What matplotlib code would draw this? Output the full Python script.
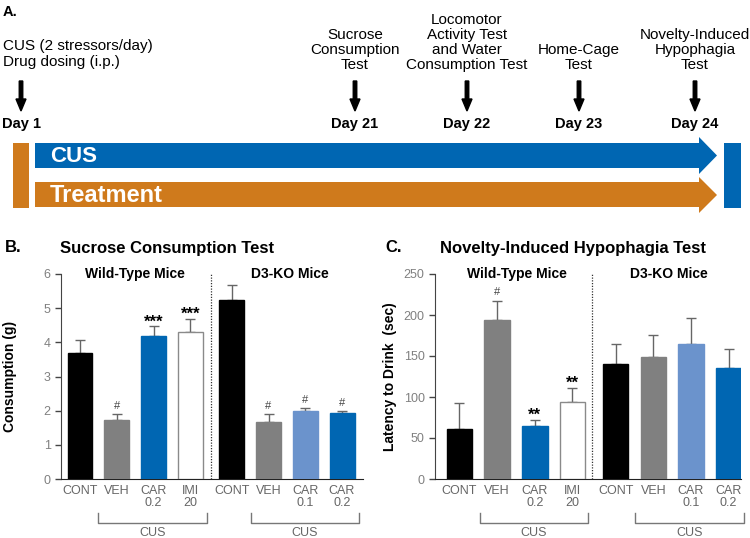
import matplotlib
matplotlib.use("Agg")
import matplotlib.pyplot as plt
from matplotlib.patches import Polygon, Rectangle, FancyArrow
from matplotlib.transforms import blended_transform_factory

plt.rcParams['font.family'] = ['Liberation Sans', 'DejaVu Sans']

# datos
etiquetas = ["CONT", "VEH", "CAR\n0.2", "IMI\n20", "CONT", "VEH", "CAR\n0.1", "CAR\n0.2"]
sacarosa = [3.69, 1.72, 4.18, 4.30, 5.24, 1.67, 1.98, 1.94]
sacarosa_err = [0.39, 0.18, 0.29, 0.39, 0.43, 0.23, 0.10, 0.05]
latencia = [61.5, 194.5, 64.2, 94.0, 139.8, 148.8, 164.6, 135.8]
latencia_err = [31.0, 23.0, 8.0, 17.5, 24.4, 27.0, 31.3, 22.3]
marcas_b = ["", "#", "***", "***", "", "#", "#", "#"]
marcas_c = ["", "#", "**", "**", "", "", "", ""]
dias = ["Day 1", "Day 21", "Day 22", "Day 23", "Day 24"]
pruebas = ["CUS (2 stressors/day)\nDrug dosing (i.p.)", "Sucrose\nConsumption\nTest",
           "Locomotor\nActivity Test\nand Water\nConsumption Test", "Home-Cage\nTest",
           "Novelty-Induced\nHypophagia\nTest"]

AZUL = '#0066b2'
AZUL_CLARO = '#6b93cc'
GRIS = '#808080'
NARANJA = '#cf7a1c'
colores = ['black', GRIS, AZUL, 'white', 'black', GRIS, AZUL_CLARO, AZUL]
bordes = ['black', GRIS, AZUL, '#8a8a8a', 'black', GRIS, AZUL_CLARO, AZUL]

fig = plt.figure(figsize=(7.5, 5.38), dpi=100)

# panel A en coordenadas de pixel
ax0 = fig.add_axes([0, 0, 1, 1])
ax0.set_xlim(0, 750)
ax0.set_ylim(538, 0)
ax0.axis('off')

ax0.text(3, 12, "A.", fontsize=10.5, fontweight='bold', va='center', ha='left')
xs_dias = [21, 355, 467, 579, 695]
for i in range(len(dias)):
    x = xs_dias[i]
    ax0.add_patch(FancyArrow(x, 81, 0, 30, width=3.5, head_width=10, head_length=12,
                             length_includes_head=True, color='black'))
    if i == 0:
        ax0.text(2, 124, dias[i], fontsize=10.5, fontweight='bold', ha='left', va='center')
        ax0.text(3, 54, pruebas[i], fontsize=11, ha='left', va='center', linespacing=1.1)
    else:
        ax0.text(x, 124, dias[i], fontsize=10.5, fontweight='bold', ha='center', va='center')
        ax0.text(x, 72, pruebas[i], fontsize=11, ha='center', va='bottom', linespacing=1.1)

ax0.add_patch(Rectangle((13, 143), 16, 65, color=NARANJA, lw=0))
ax0.add_patch(Rectangle((724, 143), 17, 65, color=AZUL, lw=0))
ax0.add_patch(Polygon([(35, 143), (699, 143), (699, 137), (717, 155.5), (699, 174),
                       (699, 168), (35, 168)], closed=True, color=AZUL, lw=0))
ax0.add_patch(Polygon([(35, 182), (699, 182), (699, 177), (717, 195), (699, 213),
                       (699, 207), (35, 207)], closed=True, color=NARANJA, lw=0))
ax0.text(50, 156, "CUS", color='white', fontsize=16, fontweight='bold', va='center', ha='left')
ax0.text(50, 195, "Treatment", color='white', fontsize=17, fontweight='bold', va='center', ha='left')

ax0.text(5, 248, "B.", fontsize=12, fontweight='bold', va='center')
ax0.text(60, 248, "Sucrose Consumption Test", fontsize=12, fontweight='bold', va='center')
ax0.text(385, 248, "C.", fontsize=12, fontweight='bold', va='center')
ax0.text(440, 248, "Novelty-Induced Hypophagia Test", fontsize=12, fontweight='bold', va='center')


def panel(rect, valores, errores, marcas, pos, xlim, ymax, yticks, ylabel, xlabel_y, divisor,
          corchetes, grupos):
    ax = fig.add_axes(rect)
    ax.patch.set_alpha(0)
    ax.bar(pos, valores, width=0.68, color=colores, edgecolor=bordes, linewidth=1, zorder=3)
    ax.errorbar(pos, valores, yerr=[[0] * len(valores), errores], fmt='none', ecolor='#666666',
                elinewidth=1, capsize=3.6, capthick=1, zorder=2)
    for i in range(len(valores)):
        if marcas[i]:
            es_hash = marcas[i] == "#"
            ax.annotate(marcas[i], (pos[i], valores[i] + errores[i]), xytext=(0, 6 if es_hash else 3),
                        textcoords='offset points', ha='center', va='center',
                        fontsize=8 if es_hash else 12, fontweight='normal' if es_hash else 'bold',
                        color='#444444' if es_hash else 'black')
    ax.set_xlim(*xlim)
    ax.set_ylim(0, ymax)
    ax.set_yticks(yticks)
    ax.set_xticks(pos)
    ax.set_xticklabels(etiquetas, fontsize=9, color='#666666', linespacing=1.05)
    ax.tick_params(axis='x', length=0, pad=4)
    ax.tick_params(axis='y', labelsize=9, labelcolor='#808080', color='#444444', length=4, width=1)
    for s in ['top', 'right']:
        ax.spines[s].set_visible(False)
    ax.spines['left'].set_color('#444444')
    ax.spines['bottom'].set_color('#222222')
    ax.axvline(divisor, color='#333333', lw=0.9, ls=(0, (1, 1.2)), zorder=1)
    ax.set_ylabel(ylabel, fontsize=10, fontweight='bold')
    ax.yaxis.set_label_coords(xlabel_y, 0.5)
    tr = blended_transform_factory(ax.transData, ax.transAxes)
    for a, b in corchetes:
        ax.plot([a, a, b, b], [-0.166, -0.215, -0.215, -0.166], transform=tr, clip_on=False,
                color='#777777', lw=1)
        ax.text((a + b) / 2, -0.262, "CUS", transform=tr, ha='center', va='center',
                fontsize=9, color='#666666')
    for xg, texto in grupos:
        ax.text(xg, 1.0, texto, transform=tr, ha='center', va='center', fontsize=10,
                fontweight='bold')
    return ax


pos_b = [0, 1, 2, 3, 4.13, 5.13, 6.13, 7.13]
panel([61 / 750, 59 / 538, 302 / 750, 205 / 538], sacarosa, sacarosa_err, marcas_b, pos_b,
      (-0.517, 7.70), 6, [0, 1, 2, 3, 4, 5, 6], "Consumption (g)", -0.146, 3.565,
      [(pos_b[1] - 0.5, pos_b[3] + 0.45), (pos_b[5] - 0.48, pos_b[7] + 0.46)],
      [(1.5, "Wild-Type Mice"), (5.7, "D3-KO Mice")])

pos_c = [0, 1, 2, 3, 4.15, 5.15, 6.15, 7.15]
panel([435 / 750, 59 / 538, 306 / 750, 205 / 538], latencia, latencia_err, marcas_c, pos_c,
      (-0.651, 7.48), 250, [0, 50, 100, 150, 200, 250], "Latency to Drink  (sec)", -0.124, 3.52,
      [(pos_c[1] - 0.455, pos_c[3] + 0.42), (pos_c[5] - 0.49, pos_c[7] + 0.41)],
      [(1.52, "Wild-Type Mice"), (5.57, "D3-KO Mice")])

fig.savefig("out.png", dpi=100)
